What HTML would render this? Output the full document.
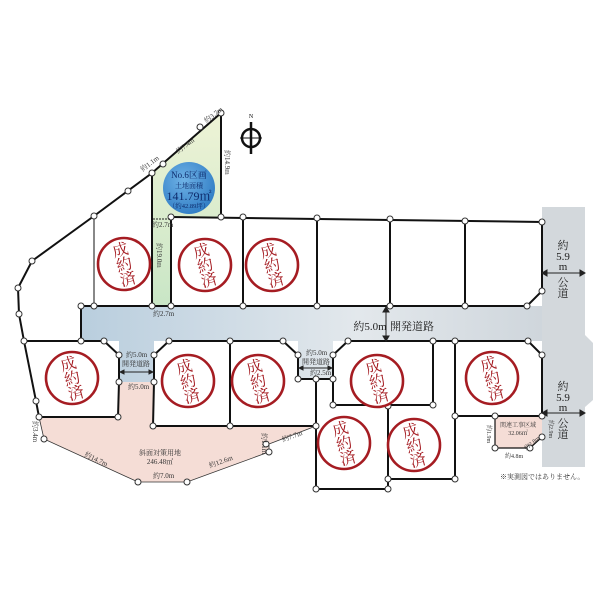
<!DOCTYPE html>
<html><head><meta charset="utf-8"><style>
html,body{margin:0;padding:0;background:#fff;}
svg{display:block;font-family:"Liberation Serif","Noto Serif CJK SC",serif;}
.t{font-size:7px;fill:#333}
.st{font-family:"Liberation Serif","Noto Serif CJK SC",serif;font-size:16px;fill:#a51c22;font-weight:normal}
</style></head><body>
<svg width="600" height="600" viewBox="0 0 600 600">
<defs>
<linearGradient id="rd" x1="0" x2="1" y1="0" y2="0"><stop offset="0" stop-color="#b9cede"/><stop offset="0.6" stop-color="#e3e8ec"/><stop offset="1" stop-color="#cfd6dc"/></linearGradient>
<linearGradient id="gr" x1="0" y1="0" x2="0" y2="1"><stop offset="0" stop-color="#eef3d6"/><stop offset="1" stop-color="#c9e6c6"/></linearGradient>
<radialGradient id="bl" cx="0.4" cy="0.35" r="0.7"><stop offset="0" stop-color="#6fb2e6"/><stop offset="1" stop-color="#2f7cc4"/></radialGradient>
</defs>
<polygon points="542,207 585,207 585,335 593,343 593,400 585,407 585,467 542,467" fill="#d3d8dc"/>
<polygon points="81,306 542,306 542,341 333,341 333,379 298,379 298,341 154,341 154,382 119,382 119,341 81,341" fill="url(#rd)"/>
<polygon points="39,417 118,417 118,382 154,382 153,426 316,426 269,444 269,452 187,482 138,482 44,439" fill="#f5ddd6"/>
<polygon points="152,173 221,113 221,217 171,217 171,305 152,305" fill="url(#gr)"/>
<polygon points="495,416 542,416 542,437 530,448 495,448" fill="#f5ddd6"/>
<g fill="none" stroke="#111" stroke-width="2">
<polyline points="221,113 221,217"/>
<polyline points="221,113 152,173 94,216 32,261 18,288 19,314 24,341 36,401 39,417"/>
<polyline points="152,173 152,306"/>
<polyline points="171,217 171,306"/>
<polyline points="171,217 542,222 542,291 527,306 81,306 81,341 24,341"/>
<line x1="94" y1="216" x2="94" y2="306" stroke-width="1"/>
<line x1="243" y1="217" x2="243" y2="306"/><line x1="317" y1="218" x2="317" y2="306"/><line x1="390" y1="219" x2="390" y2="306"/><line x1="465" y1="221" x2="465" y2="306"/>
<polyline points="81,341 104,341 119,355 119,382 118,417 39,417"/>
<polyline points="154,382 154,355 169,341 283,341 298,355 298,379 316,379"/>
<polyline points="154,382 153,426 316,426"/>
<line x1="230" y1="341" x2="230" y2="426"/>
<polyline points="316,379 333,379 333,355 348,341 528,341 542,355 542,416 455,416"/>
<polyline points="333,379 333,405 433,405 433,341"/>
<line x1="455" y1="341" x2="455" y2="479"/>
<polyline points="316,379 316,489 388,489 388,406"/>
<polyline points="388,479 455,479"/>
<polyline points="495,416 495,448 530,448 542,437" stroke-width="1.2"/>
</g>
<g stroke="#333" stroke-width="0.8" fill="none">
<polyline points="39,417 44,439 138,482 187,482 269,452 269,444 316,426"/>
</g>
<g fill="#fff" stroke="#333" stroke-width="1">
<circle cx="221" cy="113" r="3"/><circle cx="200" cy="127" r="3"/><circle cx="163" cy="164" r="3"/><circle cx="152" cy="173" r="3"/><circle cx="94" cy="216" r="3"/><circle cx="128" cy="191" r="3"/><circle cx="32" cy="261" r="3"/><circle cx="18" cy="288" r="3"/><circle cx="19" cy="314" r="3"/><circle cx="24" cy="341" r="3"/><circle cx="36" cy="401" r="3"/><circle cx="39" cy="417" r="3"/><circle cx="44" cy="439" r="3"/><circle cx="138" cy="482" r="3"/><circle cx="187" cy="482" r="3"/><circle cx="269" cy="452" r="3"/><circle cx="266" cy="444" r="3"/>
<circle cx="171" cy="217" r="3"/><circle cx="221" cy="217" r="3"/><circle cx="243" cy="217" r="3"/><circle cx="317" cy="218" r="3"/><circle cx="390" cy="219" r="3"/><circle cx="465" cy="221" r="3"/><circle cx="542" cy="222" r="3"/><circle cx="542" cy="291" r="3"/><circle cx="527" cy="306" r="3"/><circle cx="465" cy="306" r="3"/><circle cx="390" cy="306" r="3"/><circle cx="317" cy="306" r="3"/><circle cx="243" cy="306" r="3"/><circle cx="171" cy="306" r="3"/><circle cx="152" cy="306" r="3"/><circle cx="94" cy="306" r="3"/><circle cx="81" cy="306" r="3"/><circle cx="81" cy="341" r="3"/>
<circle cx="104" cy="341" r="3"/><circle cx="119" cy="355" r="3"/><circle cx="119" cy="382" r="3"/><circle cx="118" cy="417" r="3"/>
<circle cx="154" cy="355" r="3"/><circle cx="169" cy="341" r="3"/><circle cx="230" cy="341" r="3"/><circle cx="283" cy="341" r="3"/><circle cx="298" cy="355" r="3"/><circle cx="298" cy="379" r="3"/><circle cx="316" cy="379" r="3"/><circle cx="154" cy="382" r="3"/><circle cx="153" cy="426" r="3"/><circle cx="230" cy="426" r="3"/><circle cx="316" cy="426" r="3"/>
<circle cx="333" cy="355" r="3"/><circle cx="348" cy="341" r="3"/><circle cx="433" cy="341" r="3"/><circle cx="455" cy="341" r="3"/><circle cx="528" cy="341" r="3"/><circle cx="542" cy="355" r="3"/><circle cx="542" cy="416" r="3"/><circle cx="455" cy="416" r="3"/><circle cx="495" cy="416" r="3"/><circle cx="542" cy="437" r="3"/><circle cx="530" cy="448" r="3"/><circle cx="495" cy="448" r="3"/>
<circle cx="333" cy="379" r="3"/><circle cx="333" cy="405" r="3"/><circle cx="433" cy="405" r="3"/><circle cx="388" cy="406" r="3"/><circle cx="316" cy="489" r="3"/><circle cx="388" cy="489" r="3"/><circle cx="388" cy="479" r="3"/><circle cx="455" cy="479" r="3"/>
</g>
<g fill="#fff" stroke="#a51c22" stroke-width="2.6">
<circle cx="124" cy="264" r="26"/><circle cx="205" cy="265" r="26"/><circle cx="272" cy="265" r="26"/>
<circle cx="72" cy="378" r="26"/><circle cx="188" cy="381" r="26"/><circle cx="258" cy="381" r="26"/><circle cx="377" cy="381" r="26"/><circle cx="492" cy="378" r="26"/><circle cx="344" cy="443" r="26"/><circle cx="414" cy="445" r="26"/>
</g>
<g class="st" text-anchor="middle">
<g transform="translate(124,264) rotate(-15)"><text y="-9">成</text><text y="6">約</text><text y="21">済</text></g>
<g transform="translate(205,265) rotate(-15)"><text y="-9">成</text><text y="6">約</text><text y="21">済</text></g>
<g transform="translate(272,265) rotate(-15)"><text y="-9">成</text><text y="6">約</text><text y="21">済</text></g>
<g transform="translate(72,378) rotate(-15)"><text y="-9">成</text><text y="6">約</text><text y="21">済</text></g>
<g transform="translate(188,381) rotate(-15)"><text y="-9">成</text><text y="6">約</text><text y="21">済</text></g>
<g transform="translate(258,381) rotate(-15)"><text y="-9">成</text><text y="6">約</text><text y="21">済</text></g>
<g transform="translate(377,381) rotate(-15)"><text y="-9">成</text><text y="6">約</text><text y="21">済</text></g>
<g transform="translate(492,378) rotate(-15)"><text y="-9">成</text><text y="6">約</text><text y="21">済</text></g>
<g transform="translate(344,443) rotate(-15)"><text y="-9">成</text><text y="6">約</text><text y="21">済</text></g>
<g transform="translate(414,445) rotate(-15)"><text y="-9">成</text><text y="6">約</text><text y="21">済</text></g>
</g>
<circle cx="189" cy="188" r="26" fill="url(#bl)"/>
<g text-anchor="middle" fill="#0d2a6b">
<text x="189" y="178" font-size="9">No.6区画</text>
<text x="189" y="188" font-size="7">土地面積</text>
<text x="189" y="200" font-size="12">141.79㎡</text>
<text x="189" y="208" font-size="6.5">（約42.89坪）</text>
</g>
<g stroke="#111" fill="none">
<circle cx="251" cy="138" r="9" stroke-width="2.5"/>
<line x1="251" y1="122" x2="251" y2="154" stroke-width="2.5"/>
<line x1="240" y1="138" x2="262" y2="138"/>
</g>
<text x="251" y="118" font-size="6" text-anchor="middle">N</text>
<g class="t">
<text x="204" y="120" transform="rotate(-38 210 118)">約3.7m</text>
<text x="176" y="152" transform="rotate(-38 180 150)">約7.4m</text>
<text x="140" y="168" transform="rotate(-38 147 166)">約1.1m</text>
<text x="225" y="150" transform="rotate(90 225 150)">約14.9m</text>
<text x="152" y="227">約2.7m</text>
<text x="157" y="243" transform="rotate(90 157 243)">約19.0m</text>
<text x="153" y="316">約2.7m</text>
<text x="126" y="357">約5.0m</text><text x="122" y="366">開発道路</text>
<text x="128" y="389">約5.0m</text>
<text x="306" y="355">約5.0m</text><text x="302" y="364">開発道路</text>
<text x="310" y="375">約2.5m</text>
<text x="33" y="421" transform="rotate(90 33 421)">約3.4m</text>
<text x="84" y="456" transform="rotate(25 84 456)">約14.7m</text>
<text x="153" y="478">約7.0m</text>
<text x="210" y="468" transform="rotate(-20 210 468)">約12.6m</text>
<text x="283" y="442" transform="rotate(-20 283 442)">約7.7m</text>
<text x="262" y="433" transform="rotate(90 262 433)">約1.1m</text>
<text x="160" y="455" text-anchor="middle">斜面対策用地</text>
<text x="160" y="464" text-anchor="middle">246.48㎡</text>
<text x="518" y="427" text-anchor="middle" font-size="6">関連工事区域</text>
<text x="518" y="435" text-anchor="middle" font-size="6">32.06㎡</text>
<text x="487" y="425" transform="rotate(90 487 425)" font-size="6">約1.9m</text>
<text x="505" y="458" font-size="6">約4.8m</text>
<text x="522" y="449" transform="rotate(-40 526 444)" font-size="6">約2.8m</text>
<text x="549" y="420" transform="rotate(90 549 420)" font-size="6">約2.9m</text>
<text x="500" y="479" font-size="7">※実測図ではありません。</text>
</g>
<g font-size="11" fill="#222" text-anchor="middle">
<text x="390" y="330" font-size="11"><tspan x="370">約5.0m</tspan><tspan x="412">開発道路</tspan></text>
<text x="563" y="249">約</text><text x="563" y="260">5.9</text><text x="563" y="270">m</text><text x="563" y="286">公</text><text x="563" y="297">道</text>
<text x="563" y="390">約</text><text x="563" y="401">5.9</text><text x="563" y="411">m</text><text x="563" y="427">公</text><text x="563" y="438">道</text>
</g>
<g stroke="#222" stroke-width="1" fill="#222">
<line x1="386" y1="308" x2="386" y2="339"/>
<polygon points="383,312 389,312 386,307"/><polygon points="383,336 389,336 386,341"/>
<line x1="544" y1="273" x2="583" y2="273"/><polygon points="547,270 547,276 542,273"/><polygon points="580,270 580,276 585,273"/>
<line x1="544" y1="413" x2="583" y2="413"/><polygon points="547,410 547,416 542,413"/><polygon points="580,410 580,416 585,413"/>
<line x1="121" y1="372" x2="152" y2="372"/><polygon points="124,370 124,374 120,372"/><polygon points="149,370 149,374 153,372"/>
<line x1="300" y1="368" x2="331" y2="368"/><polygon points="303,366 303,370 299,368"/><polygon points="328,366 328,370 332,368"/>
<line x1="153" y1="219" x2="170" y2="219" stroke-dasharray="2,1"/>
</g>
</svg>
</body></html>
